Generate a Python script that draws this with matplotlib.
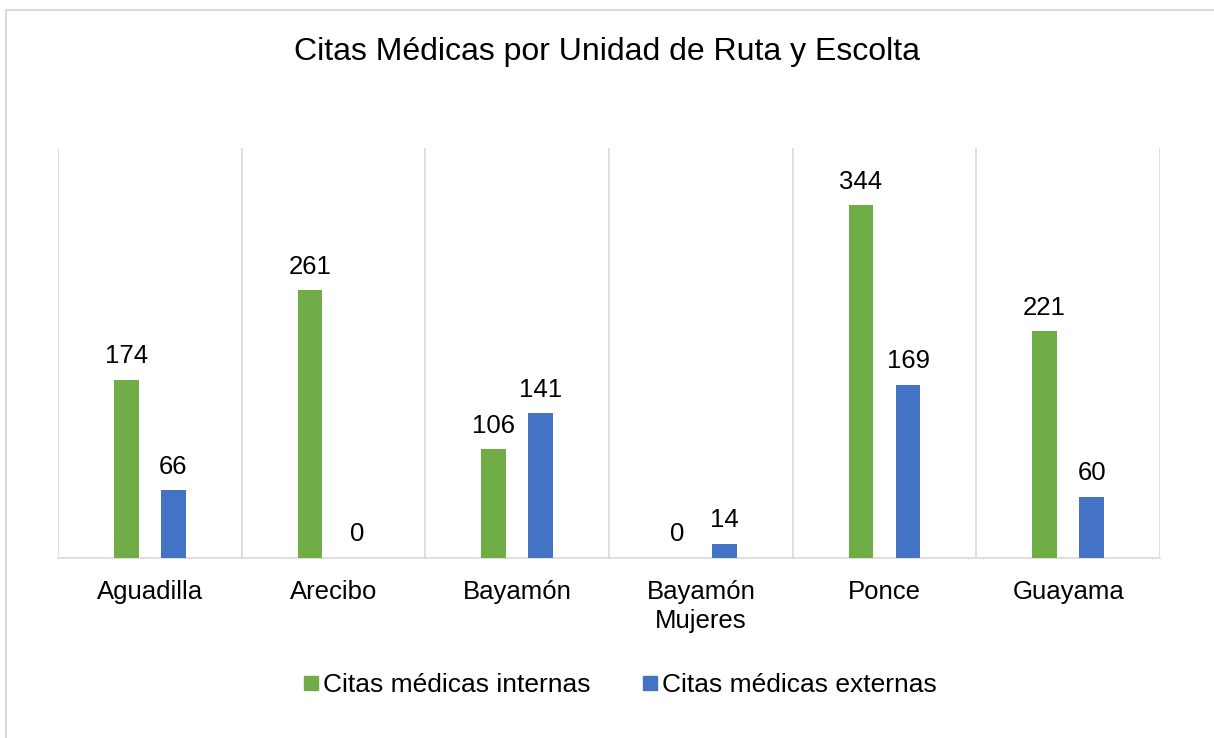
import matplotlib
matplotlib.use("Agg")
import matplotlib.pyplot as plt
from matplotlib.patches import Rectangle
from matplotlib.lines import Line2D
import numpy as np

plt.rcParams['font.family'] = ['Liberation Sans', 'DejaVu Sans']

categories = ["Aguadilla", "Arecibo", "Bayamón", "Bayamón\nMujeres", "Ponce", "Guayama"]
series_names = ["Citas médicas internas", "Citas médicas externas"]
internas = [174, 261, 106, 0, 344, 221]
externas = [66, 0, 141, 14, 169, 60]
colors = ["#70AD47", "#4472C4"]
title = "Citas Médicas por Unidad de Ruta y Escolta"

W, H = 1214, 738
fig = plt.figure(figsize=(W / 100, H / 100), dpi=100)

# outer chart border (cropped at right and bottom)
fig.patches.append(Rectangle((6 / W, -0.05), 1.2, 1 - 10 / H + 0.05,
                             transform=fig.transFigure, fill=False,
                             edgecolor="#d9d9d9", linewidth=1.5))

ax = fig.add_axes([58 / W, 1 - 558 / H, (1160 - 58) / W, (558 - 148) / H])
x = np.arange(len(categories))
bw = 0.136
off = 0.128
for vals, col, sgn in [(internas, colors[0], -1), (externas, colors[1], 1)]:
    bars = ax.bar(x + sgn * off, vals, width=bw, color=col, zorder=3)
    for b, v in zip(bars, vals):
        ax.annotate(str(v), (b.get_x() + b.get_width() / 2, v),
                    xytext=(0, 12), textcoords="offset points",
                    ha="center", va="baseline", fontsize=18.5, color="#000000")

ax.set_xlim(-0.5, len(categories) - 0.5)
ax.set_ylim(0, 400)
for b in np.arange(-0.5, len(categories), 1.0):
    ax.axvline(b, color="#d9d9d9", linewidth=1.2, zorder=1)
for s in ["top", "left", "right"]:
    ax.spines[s].set_visible(False)
ax.spines["bottom"].set_color("#d9d9d9")
ax.spines["bottom"].set_linewidth(1.2)
ax.set_yticks([])
ax.set_xticks(x)
ax.set_xticklabels(categories, fontsize=18.5, color="#000000", linespacing=1.28)
ax.tick_params(axis="x", length=0, pad=15.5)

fig.text(0.5, 1 - 52 / H, title, ha="center", va="center", fontsize=23, color="#000000")

handles = [Line2D([0], [0], marker="s", linestyle="none", markersize=10.5,
                  markerfacecolor=c, markeredgecolor=c) for c in colors]
fig.legend(handles, series_names, loc="center", bbox_to_anchor=(618 / W, 1 - 685 / H),
           ncol=2, frameon=False, fontsize=19, handletextpad=0.0,
           columnspacing=1.8, handlelength=0.9)

fig.savefig("out.png", dpi=100, facecolor="white")
